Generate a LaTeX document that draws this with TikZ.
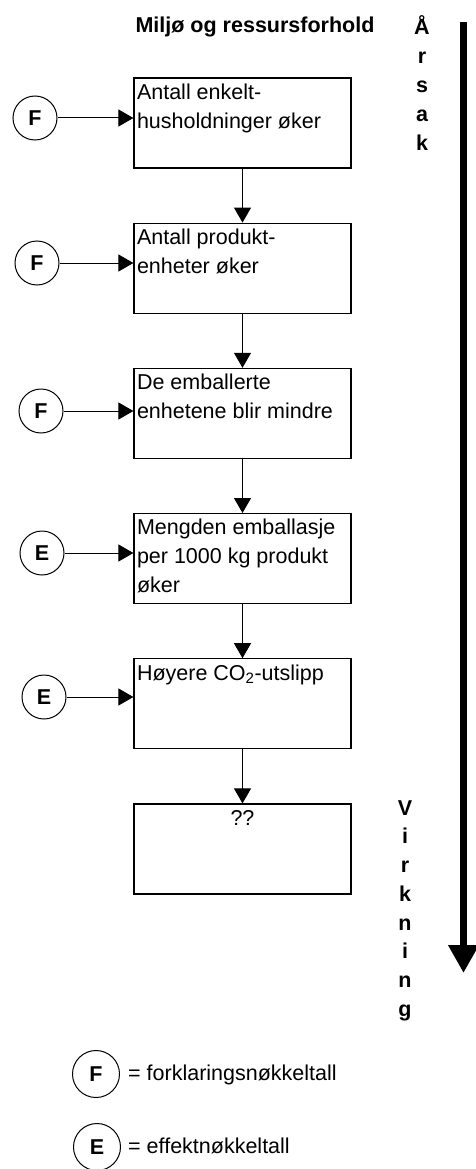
\documentclass[tikz,border=0pt]{standalone}
\usepackage{fontspec}
\setmainfont{Liberation Sans}
\usetikzlibrary{shapes,arrows.meta,calc,positioning}
\newcommand{\diagfont}{\fontsize{21.5}{29}\selectfont}
\tikzstyle{block} = [rectangle, draw, line width=1.2pt, inner xsep=3pt, inner ysep=1pt,
node distance = 54pt]
\tikzstyle{key} = [circle, draw, line width=1pt, minimum size=44pt, inner sep=0pt, font=\diagfont\bfseries]
\tikzstyle{line} = [draw, line width=1pt, -{Triangle[length=15pt,width=17pt]}]
\tikzstyle{letter} = [anchor=base, inner sep=0pt, font=\diagfont\bfseries]
\newcommand{\boxtext}[1]{\parbox[t][88pt][t]{211pt}{\raggedright\strut #1}}

\begin{document}
\begin{tikzpicture}[x=1pt, y=-1pt, font=\diagfont]
\useasboundingbox (0,0) rectangle (476,1169);

\node [anchor=base, inner sep=0pt, font=\diagfont\bfseries] (title) at (255,33) {Miljø og ressursforhold};

\node [block] (households) at (242.5,123) {\boxtext{Antall enkelt-\\husholdninger øker}};
\node [block, below = of households] (units) {\boxtext{Antall produkt-\\enheter øker}};
\node [block, below = of units] (smaller) {\boxtext{De emballerte\\enhetene blir mindre}};
\node [block, below = of smaller] (packaging) {\boxtext{Mengden emballasje\\per 1000 kg produkt\\øker}};
\node [block, below = of packaging] (co2) {\boxtext{Høyere CO\textsubscript{2}-utslipp}};
\node [block, below = of co2] (unknown) {\parbox[t][88pt][t]{211pt}{\centering\strut ??}};

\node [key] (f1) at (35,118) {F};
\node [key] (f2) at (37,263) {F};
\node [key] (f3) at (41,411) {F};
\node [key] (e1) at (42,553) {E};
\node [key] (e2) at (44,697) {E};

\path [line] (f1.east) -- (f1.east -| households.west);
\path [line] (f2.east) -- (f2.east -| units.west);
\path [line] (f3.east) -- (f3.east -| smaller.west);
\path [line] (e1.east) -- (e1.east -| packaging.west);
\path [line] (e2.east) -- (e2.east -| co2.west);

\path [line] (households) -- (units);
\path [line] (units) -- (smaller);
\path [line] (smaller) -- (packaging);
\path [line] (packaging) -- (co2);
\path [line] (co2) -- (unknown);

% cause / effect axis
\foreach \ch [count=\i from 0] in {Å,r,s,a,k}
  \node [letter] (cause-\i) at (422,{35+28.8*\i}) {\ch};
\foreach \ch [count=\i from 0] in {V,i,r,k,n,i,n,g}
  \node [letter] (effect-\i) at (405,{815+28.75*\i}) {\ch};
\coordinate (bar top) at (463.5,22);
\coordinate (bar end) at (463.5,973);
\draw [line width=7.5pt, -{Triangle[length=28pt,width=29pt]}] (bar top) -- (bar end);

% legend
\node [key, minimum size=47pt] (keyF) at (96,1074) {F};
\node [anchor=base west, inner sep=0pt] (keyFtext) at (128,1080) {= forklaringsnøkkeltall};
\node [key, minimum size=47pt] (keyE) at (97,1147) {E};
\node [anchor=base west, inner sep=0pt] (keyEtext) at (128,1153) {= effektnøkkeltall};
\end{tikzpicture}
\end{document}
